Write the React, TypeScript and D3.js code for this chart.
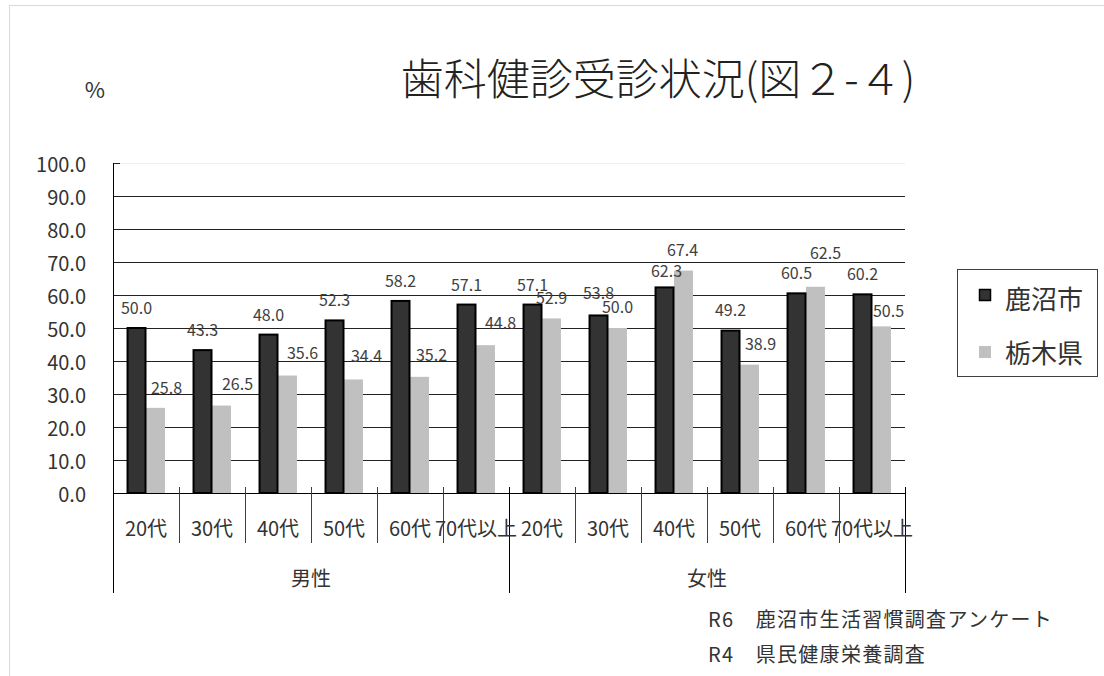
import React from "react";
import * as d3 from "d3";

const ageGroups = ["20代", "30代", "40代", "50代", "60代", "70代以上"];
const sexes = ["男性", "女性"];
const seriesNames = ["鹿沼市", "栃木県"];
const kanuma = [50.0, 43.3, 48.0, 52.3, 58.2, 57.1, 57.1, 53.8, 62.3, 49.2, 60.5, 60.2];
const tochigi = [25.8, 26.5, 35.6, 34.4, 35.2, 44.8, 52.9, 50.0, 67.4, 38.9, 62.5, 50.5];
const yTicks = [0, 10, 20, 30, 40, 50, 60, 70, 80, 90, 100];
const sources = ["R6　鹿沼市生活習慣調査アンケート", "R4　県民健康栄養調査"];

// label nudges (dx, dy) relative to bar top centre, as placed in the original
const kanumaNudge: [number, number][] = [
  [0, -21], [0, -21], [0, -21], [0, -21], [0, -21], [0, -21],
  [0, -21], [0, -23], [2, -17], [0, -22], [0, -21], [0, -21],
];
const tochigiNudge: [number, number][] = [
  [11, -21], [16, -23], [15, -24], [13, -24], [12, -23], [15, -23],
  [0, -21], [0, -22], [-1, -22], [11, -22], [10, -35], [7, -16],
];

const FONT = "'Noto Sans CJK JP', 'Noto Sans', sans-serif";

export default function App() {
  const W = 1104, H = 676;
  const left = 113, right = 905, top = 163, bottom = 493;
  const cats = d3.range(ageGroups.length * sexes.length);
  const x0 = d3.scaleBand<number>().domain(cats).range([left, right]).padding(0);
  const x1 = d3.scaleBand<string>().domain(seriesNames).range([0, x0.bandwidth()]).paddingInner(0).paddingOuter(0.74);
  const y = d3.scaleLinear().domain([0, 100]).range([bottom, top]);
  const bw = x1.bandwidth();
  const groupW = x0.step() * ageGroups.length;

  return (
    <div style={{ position: "absolute", left: 0, top: 0 }}>
      <svg width={W} height={H} style={{ display: "block", background: "#fff" }} fontFamily={FONT}>
        <rect x={9.5} y={5.5} width={1110} height={700} fill="none" stroke="#d9d9d9" />
        <text x={658} y={76} textAnchor="middle" dominantBaseline="central" fontSize={43} fontWeight={300} fill="#222">
          歯科健診受診状況(図２-４)
        </text>
        <text x={95} y={88} textAnchor="middle" dominantBaseline="central" fontSize={22} fill="#333">%</text>

        {/* gridlines */}
        {yTicks.filter(t => t > 0).map(t => (
          <line key={"g" + t} x1={left} x2={right} y1={y(t)} y2={y(t)} stroke={t === 100 ? "#eeeeee" : "#222"} strokeWidth={1} shapeRendering="crispEdges" />
        ))}
        <line x1={left} x2={left + 7} y1={y(100)} y2={y(100)} stroke="#222" shapeRendering="crispEdges" />
        {yTicks.map(t => (
          <text key={"t" + t} x={86} y={y(t)} textAnchor="end" dominantBaseline="central" fontSize={20} fill="#333">
            {t.toFixed(1)}
          </text>
        ))}

        {/* bars */}
        {cats.map(i => (
          <g key={"b" + i}>
            <rect x={x0(i)! + x1("栃木県")!} y={y(tochigi[i])} width={bw} height={y(0) - y(tochigi[i])} fill="#c0c0c0" />
            <rect x={x0(i)! + x1("鹿沼市")! + 0.5} y={y(kanuma[i])} width={bw - 1} height={y(0) - y(kanuma[i])} fill="#333333" stroke="#000" strokeWidth={2} />
          </g>
        ))}

        {/* axes */}
        <line x1={left} x2={right} y1={bottom} y2={bottom} stroke="#000" shapeRendering="crispEdges" />
        <line x1={left} x2={left} y1={top} y2={593} stroke="#000" shapeRendering="crispEdges" />
        {d3.range(cats.length + 1).map(k => {
          const xx = left + k * x0.step();
          const isGroup = k % ageGroups.length === 0;
          if (k === 0) return null;
          return <line key={"s" + k} x1={xx} x2={xx} y1={487} y2={isGroup ? 593 : 543} stroke={isGroup ? "#000" : "#404040"} shapeRendering="crispEdges" />;
        })}
        {cats.map(i => (
          <text key={"c" + i} x={x0(i)! + x0.bandwidth() / 2} y={527} textAnchor="middle" dominantBaseline="central" fontSize={20} fill="#333">
            {ageGroups[i % ageGroups.length]}
          </text>
        ))}
        {sexes.map((s, j) => (
          <text key={"sx" + s} x={left + groupW * j + groupW / 2} y={577} textAnchor="middle" dominantBaseline="central" fontSize={20} fill="#333">
            {s}
          </text>
        ))}

        {/* data labels */}
        {cats.map(i => (
          <g key={"l" + i} fontSize={16} fill="#404040" textAnchor="middle">
            <text x={x0(i)! + x1("鹿沼市")! + bw / 2 + kanumaNudge[i][0]} y={y(kanuma[i]) + kanumaNudge[i][1]} dominantBaseline="central">
              {kanuma[i].toFixed(1)}
            </text>
            <text x={x0(i)! + x1("栃木県")! + bw / 2 + tochigiNudge[i][0]} y={y(tochigi[i]) + tochigiNudge[i][1]} dominantBaseline="central">
              {tochigi[i].toFixed(1)}
            </text>
          </g>
        ))}

        {/* legend */}
        <rect x={957.5} y={269.5} width={140} height={107} fill="#fff" stroke="#404040" />
        <rect x={979.5} y={289.5} width={11} height={11} fill="#333" stroke="#000" strokeWidth={1.5} />
        <rect x={979} y={346} width={12} height={12} fill="#c0c0c0" />
        <text x={1005} y={297} dominantBaseline="central" fontSize={26} fill="#333">{seriesNames[0]}</text>
        <text x={1005} y={351} dominantBaseline="central" fontSize={26} fill="#333">{seriesNames[1]}</text>

        {/* sources */}
        {sources.map((s, k) => (
          <text key={"src" + k} x={708} y={618 + k * 35} dominantBaseline="central" fontSize={20} fill="#333" letterSpacing={1.3}>
            {s}
          </text>
        ))}
      </svg>
    </div>
  );
}
